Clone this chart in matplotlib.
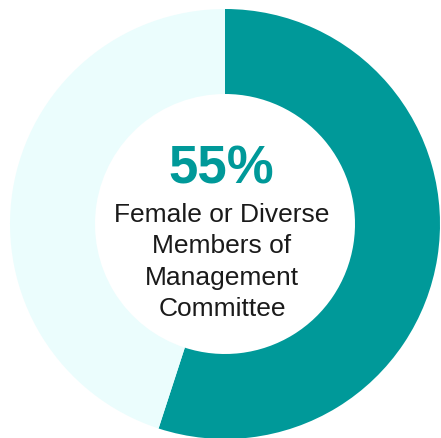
import matplotlib.pyplot as plt

# share of the management committee
labels = ['Female or Diverse', 'Other']
shares = [55, 45]
colors = ['#009999', '#ebfdfd']

headline = '55%'
caption = ['Female or Diverse', 'Members of', 'Management', 'Committee']

W, H = 441, 438
fig = plt.figure(figsize=(W / 100, H / 100), dpi=100)
ax = fig.add_axes([0, 0, 1, 1])

# ring drawn clockwise from 12 o'clock, pixel units
ax.pie(shares, colors=colors, center=(225, H - 224), radius=215,
       startangle=90, counterclock=False,
       wedgeprops=dict(width=85, linewidth=0))

ax.set_xlim(0, W)
ax.set_ylim(0, H)
ax.set_aspect('equal')
ax.axis('off')

font = ['Liberation Sans', 'DejaVu Sans']
ax.text(221, H - 183, headline, ha='center', va='baseline',
        fontsize=38, fontweight='bold', color='#009999', family=font)

baselines = [222, 253, 285, 316]
for line, yb in zip(caption, baselines):
    ax.text(222, H - yb, line, ha='center', va='baseline',
            fontsize=19, color='#1a1a1a', family=font)

fig.savefig('out.png', dpi=100)
